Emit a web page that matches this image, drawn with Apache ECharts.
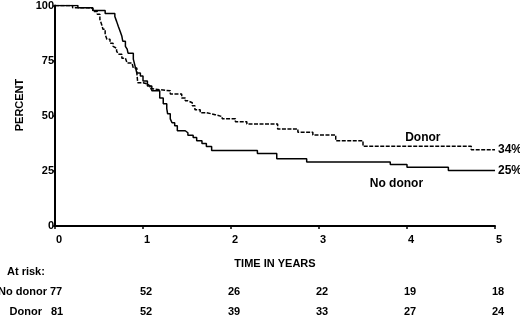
<!DOCTYPE html>
<html><head><meta charset="utf-8">
<script src="https://cdn.jsdelivr.net/npm/echarts@6/dist/echarts.min.js"></script>
<style>html,body{margin:0;padding:0;background:#fff}#c{width:520px;height:317px}</style>
</head><body><div id="c"></div>
<script>
// Kaplan-Meier step data (time in years, percent)
const donorT = [0, 0.20, 0.375, 0.43, 0.48, 0.51, 0.53, 0.545, 0.57, 0.59, 0.625, 0.66, 0.68, 0.70, 0.72, 0.76, 0.80, 0.82, 0.875, 0.89, 0.93, 0.94, 1.0, 1.05, 1.08, 1.11, 1.31, 1.44, 1.48, 1.51, 1.56, 1.59, 1.65, 1.72, 1.82, 1.90, 2.05, 2.18, 2.53, 2.76, 2.93, 3.19, 3.50, 4.73, 5.0];
const donorV = [100, 99, 98.6, 97.3, 96, 93.7, 91.4, 89.2, 86.9, 84.7, 82.9, 81.5, 80.6, 79.3, 77.9, 76.1, 75.7, 73.9, 73.4, 71.6, 69.4, 65, 64.4, 63.5, 62.2, 61.3, 59.9, 58.1, 56.8, 55.9, 54.5, 52.7, 51.4, 50.5, 49.6, 48.6, 47.3, 46.3, 44, 42.5, 41.3, 38.7, 36.2, 34.6, 34.6];
const noDonorT = [0, 0.26, 0.43, 0.57, 0.68, 0.70, 0.72, 0.74, 0.76, 0.77, 0.80, 0.82, 0.83, 0.89, 0.91, 0.93, 0.97, 1.0, 1.05, 1.10, 1.19, 1.23, 1.27, 1.28, 1.31, 1.33, 1.36, 1.39, 1.48, 1.51, 1.57, 1.61, 1.67, 1.72, 1.78, 2.30, 2.52, 2.86, 3.81, 4.00, 4.47, 5.0];
const noDonorV = [100, 99, 97.7, 96.4, 95, 92.8, 90.5, 88.3, 86, 83.8, 81.5, 80.2, 78.4, 75.7, 72.5, 69.4, 68, 65.8, 63.5, 61.3, 58.1, 55.4, 53.2, 50.9, 48.6, 46.8, 45.5, 43.2, 42.3, 41.2, 40.1, 38.7, 37.4, 36, 34.2, 32.9, 30.5, 29, 27.9, 26.7, 25.2, 25.2];
const seriesNames = ['Donor', 'No donor'];
const finalLabels = ['34%', '25%'];
const xTicks = [0, 1, 2, 3, 4, 5];
const yAxisTitle = 'PERCENT';
const xAxisTitle = 'TIME IN YEARS';
const riskTitle = 'At risk:';
const riskRowNames = ['No donor', 'Donor'];
const riskNoDonor = [77, 52, 26, 22, 19, 18];
const riskDonor = [81, 52, 39, 33, 27, 24];

const FF = "'Liberation Sans', Arial, sans-serif";
const txt = {fontFamily: FF, fontWeight: 'bold', fontSize: 11, color: '#000'};
const font11 = "bold 11px " + FF;
const font12 = "bold 12px " + FF;

const chart = echarts.init(document.getElementById('c'), null, {renderer: 'canvas'});
const zip = (t, v) => t.map((x, i) => [x, v[i]]);

chart.setOption({
  animation: false,
  grid: {left: 55, right: 25, top: 4, bottom: 91, containLabel: false},
  xAxis: {
    type: 'value', min: 0, max: 5, interval: 1,
    name: xAxisTitle, nameLocation: 'middle', nameGap: 32,
    nameTextStyle: Object.assign({}, txt),
    axisLine: {show: true, lineStyle: {color: '#000', width: 2}},
    axisTick: {show: true, length: 3, lineStyle: {color: '#000', width: 1.5}},
    axisLabel: Object.assign({margin: 8, padding: [0, 0, 0, 8]}, txt),
    splitLine: {show: false}
  },
  yAxis: {
    type: 'value', min: 0, max: 100, interval: 25,
    axisLine: {show: true, lineStyle: {color: '#000', width: 2}},
    axisTick: {show: true, length: 2, lineStyle: {color: '#000', width: 1.5}},
    axisLabel: Object.assign({margin: 1}, txt),
    splitLine: {show: false}
  },
  series: [
    {
      name: seriesNames[0], type: 'line', step: 'end', symbol: 'none',
      data: zip(donorT, donorV),
      lineStyle: {color: '#000', width: 1.5, type: [4, 1.5]},
      endLabel: Object.assign({show: true, formatter: finalLabels[0], distance: 3}, txt, {fontSize: 12}),
      z: 3
    },
    {
      name: seriesNames[1], type: 'line', step: 'end', symbol: 'none',
      data: zip(noDonorT, noDonorV),
      lineStyle: {color: '#000', width: 1.5},
      endLabel: Object.assign({show: true, formatter: finalLabels[1], distance: 3}, txt, {fontSize: 12}),
      z: 3
    }
  ]
});

// Labels and at-risk table positioned through the chart's own scales
const px = (t, v) => chart.convertToPixel({gridIndex: 0}, [t, v]);
const g = [];
const donorLab = px(4.18, 40);
g.push({type: 'text', x: donorLab[0], y: donorLab[1], style: {text: seriesNames[0], textAlign: 'center', textVerticalAlign: 'middle', fill: '#000', font: font12}});
const noLab = px(3.88, 19.4);
g.push({type: 'text', x: noLab[0], y: noLab[1], style: {text: seriesNames[1], textAlign: 'center', textVerticalAlign: 'middle', fill: '#000', font: font12}});
g.push({type: 'text', x: 20, y: 105, rotation: Math.PI / 2, style: {text: yAxisTitle, textAlign: 'center', textVerticalAlign: 'middle', fill: '#000', font: font11}});

g.push({type: 'text', x: 7, y: 272, style: {text: riskTitle, textAlign: 'left', textVerticalAlign: 'middle', fill: '#000', font: font11}});
const rows = [riskNoDonor, riskDonor];
const rowY = [292, 312];
const rowRight = [47, 42];
rows.forEach((r, ri) => {
  g.push({type: 'text', x: rowRight[ri], y: rowY[ri], style: {text: riskRowNames[ri], textAlign: 'right', textVerticalAlign: 'middle', fill: '#000', font: font11}});
  r.forEach((n, i) => {
    const p = px(xTicks[i], 0);
    const first = i === 0;
    g.push({type: 'text', x: first ? p[0] + (ri === 0 ? 1 : 2) : p[0] + 3, y: rowY[ri],
      style: {text: String(n), textAlign: 'center', textVerticalAlign: 'middle', fill: '#000', font: font11}});
  });
});
chart.setOption({graphic: g});
</script>
</body></html>
